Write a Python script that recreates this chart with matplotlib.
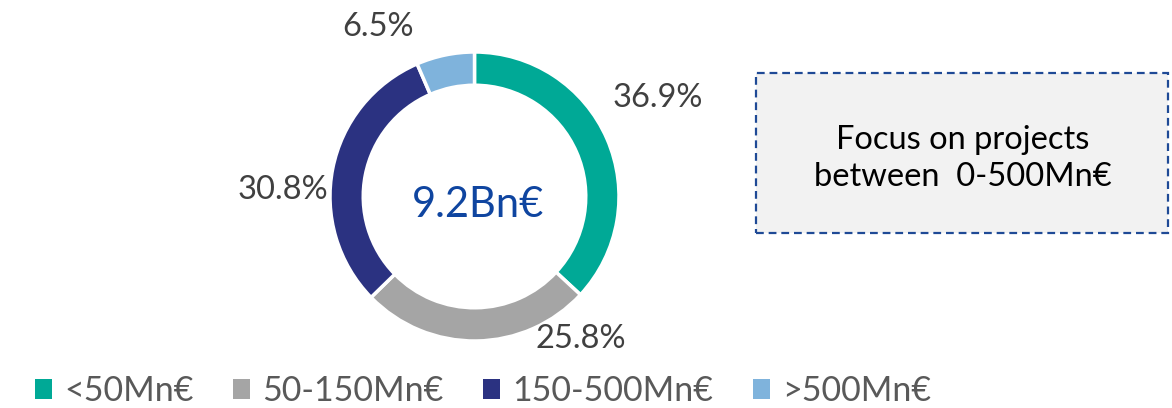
import matplotlib
matplotlib.use("Agg")
import matplotlib.pyplot as plt
from matplotlib.patches import Rectangle, Patch

categories = ["<50Mn€", "50-150Mn€", "150-500Mn€", ">500Mn€"]
shares = [36.9, 25.8, 30.8, 6.5]
label_texts = ["36.9%", "25.8%", "30.8%", "6.5%"]
center_text = "9.2Bn€"
box_text = "Focus on projects\nbetween  0-500Mn€"
colors = ["#00A996", "#A5A5A5", "#2B3281", "#7FB3DC"]

plt.rcParams['font.family'] = ['Lato', 'DejaVu Sans']

W, H = 1172, 408
fig = plt.figure(figsize=(W / 100, H / 100), dpi=100)

cx, cy, R = 474.5, 196.5, 144.5
ax = fig.add_axes([(cx - R) / W, (H - cy - R) / H, 2 * R / W, 2 * R / H])
ax.pie(shares, colors=colors, startangle=90, counterclock=False, radius=1,
       wedgeprops=dict(width=0.23, edgecolor="white", linewidth=2.5))
ax.set_xlim(-1, 1)
ax.set_ylim(-1, 1)
ax.set_aspect("equal")
ax.axis("off")

# label positions in pixels: (centre x, baseline y)
pos = [(657.5, 107), (581, 348), (282.5, 199), (378, 36)]
for t, (px, py) in zip(label_texts, pos):
    fig.text(px / W, 1 - py / H, t, ha="center", va="baseline", fontsize=23.5,
             color="#404040")

fig.text(478 / W, 1 - 217 / H, center_text, ha="center", va="baseline", fontsize=30,
         color="#0F45A0")

# dashed box
bx0, by0, bx1, by1 = 756, 73, 1168, 233
rect = Rectangle((bx0 / W, 1 - by1 / H), (bx1 - bx0) / W, (by1 - by0) / H,
                 transform=fig.transFigure, facecolor="#F2F2F2", edgecolor="#1F4A96",
                 linewidth=1.6, linestyle=(0, (3.5, 2.2)))
fig.patches.append(rect)
fig.text(962.5 / W, 1 - 186 / H, box_text, ha="center", va="baseline",
         fontsize=23.5, color="#000000", linespacing=1.3)

handles = [Patch(facecolor=c, edgecolor="none") for c in colors]
leg = fig.legend(handles, categories, loc="center left", bbox_to_anchor=(35 / W, 1 - 391 / H),
                 ncol=4, frameon=False, fontsize=24.5, handlelength=0.5, handleheight=0.5,
                 handletextpad=0.35, columnspacing=1.17, borderaxespad=0, borderpad=0)
for t in leg.get_texts():
    t.set_color("#595959")

fig.savefig("out.png", dpi=100)
